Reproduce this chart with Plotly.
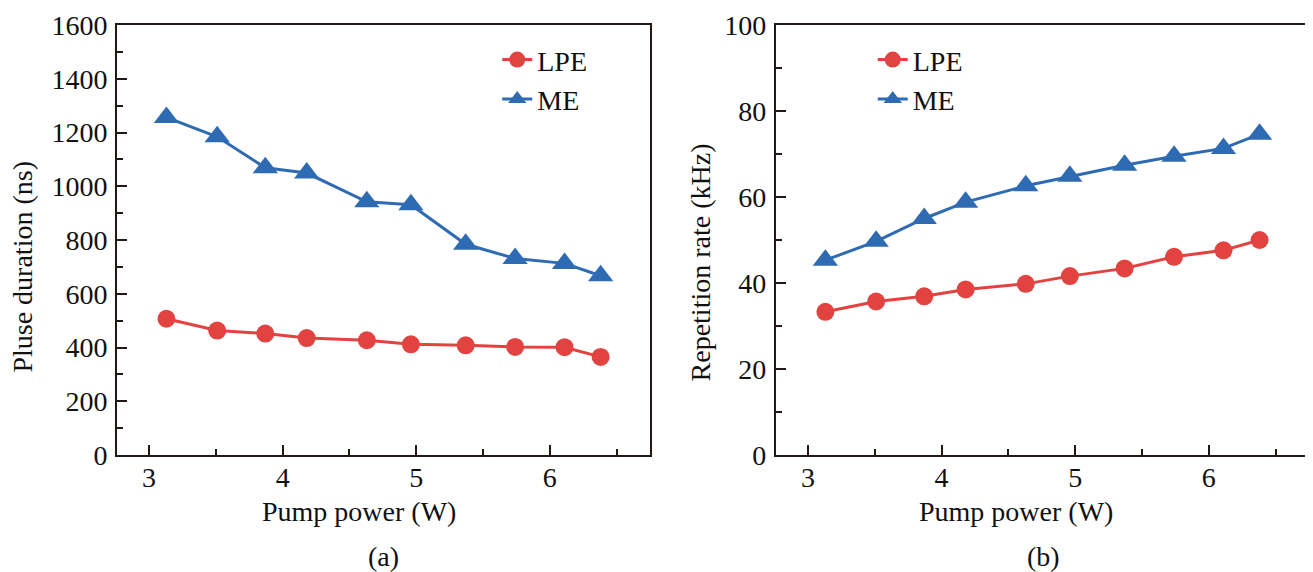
import plotly.graph_objects as go
from plotly.subplots import make_subplots

# ---- data ----
pump_power = [3.13, 3.51, 3.87, 4.18, 4.63, 4.96, 5.37, 5.74, 6.11, 6.38]
duration_lpe = [507, 463, 452, 435, 427, 412, 408, 402, 401, 365]
duration_me = [1256, 1184, 1069, 1049, 942, 931, 784, 731, 713, 667]
rate_lpe = [33.3, 35.7, 36.9, 38.5, 39.8, 41.6, 43.4, 46.1, 47.6, 50.0]
rate_me = [45.3, 49.7, 55.0, 58.8, 62.6, 64.8, 67.4, 69.5, 71.3, 74.6]
series_names = ["LPE", "ME"]
x_ticks = [3, 4, 5, 6]
y1_ticks = [0, 200, 400, 600, 800, 1000, 1200, 1400, 1600]
y2_ticks = [0, 20, 40, 60, 80, 100]

RED = "#E24341"
BLUE = "#2F6BB3"
AX = "#231815"
FONT = "Liberation Serif"

fig = make_subplots(rows=1, cols=2, horizontal_spacing=0.1056)
fig.update_layout(xaxis=dict(domain=[0, 0.4472]), xaxis2=dict(domain=[0.5528, 1.0]))

fig.add_trace(go.Scatter(x=pump_power, y=duration_lpe, name=series_names[0], mode="lines+markers",
                         line=dict(color=RED, width=3), marker=dict(symbol="circle", size=18, color=RED),
                         legend="legend"), row=1, col=1)
fig.add_trace(go.Scatter(x=pump_power, y=duration_me, name=series_names[1], mode="lines+markers",
                         line=dict(color=BLUE, width=3), marker=dict(symbol="triangle-up", size=22, color=BLUE),
                         legend="legend"), row=1, col=1)
fig.add_trace(go.Scatter(x=pump_power, y=rate_lpe, name=series_names[0], mode="lines+markers",
                         line=dict(color=RED, width=3), marker=dict(symbol="circle", size=18, color=RED),
                         legend="legend2"), row=1, col=2)
fig.add_trace(go.Scatter(x=pump_power, y=rate_me, name=series_names[1], mode="lines+markers",
                         line=dict(color=BLUE, width=3), marker=dict(symbol="triangle-up", size=22, color=BLUE),
                         legend="legend2"), row=1, col=2)

axis_common = dict(showline=True, linecolor=AX, linewidth=2, mirror=True, showgrid=False, zeroline=False,
                   ticks="inside", ticklen=10, tickwidth=2, tickcolor=AX,
                   tickfont=dict(family=FONT, size=28, color="#111111"))
minor_common = dict(ticks="inside", ticklen=6, tickwidth=2, tickcolor=AX, showgrid=False)

for xa in ["xaxis", "xaxis2"]:
    fig.update_layout({xa: dict(range=[2.76, 6.75], tickvals=x_ticks, ticktext=[str(v) for v in x_ticks],
                                minor=dict(dtick=0.5, tick0=0, **minor_common), ticklabelstandoff=-4,
                                **axis_common)})
fig.update_layout(yaxis=dict(range=[0, 1600], tickvals=y1_ticks, ticktext=[str(v) for v in y1_ticks],
                             minor=dict(dtick=100, tick0=0, **minor_common), ticklabelstandoff=2,
                             **axis_common))
fig.update_layout(yaxis2=dict(range=[0, 100], tickvals=y2_ticks, ticktext=[str(v) for v in y2_ticks],
                              minor=dict(dtick=10, tick0=0, **minor_common), ticklabelstandoff=2,
                              **axis_common))

legend_common = dict(font=dict(family=FONT, size=28, color="#111111"), bgcolor="rgba(0,0,0,0)",
                     borderwidth=0, xanchor="left", yanchor="top", tracegroupgap=0)
fig.update_layout(legend=dict(x=0.319, y=0.977, **legend_common),
                  legend2=dict(x=0.634, y=0.977, **legend_common), showlegend=True)

ann_font = dict(family=FONT, size=28, color="#111111")
annotations = [
    dict(text="Pluse duration (ns)", x=-0.0796, y=0.4385, textangle=-90),
    dict(text="Repetition rate (kHz)", x=0.4891, y=0.4478, textangle=-90),
    dict(text="Pump power (W)", x=0.2027, y=-0.1323, textangle=0),
    dict(text="Pump power (W)", x=0.7546, y=-0.1323, textangle=0),
    dict(text="(a)", x=0.2236, y=-0.2367, textangle=0),
    dict(text="(b)", x=0.7772, y=-0.2367, textangle=0),
]
for a in annotations:
    fig.add_annotation(xref="paper", yref="paper", showarrow=False, xanchor="center", yanchor="middle",
                       font=ann_font, **a)

# page body has an 8px margin: size the figure so the plot area lands where the reference has it
fig.update_layout(width=1305, height=564, margin=dict(l=109, r=2, t=16, b=117),
                  paper_bgcolor="white", plot_bgcolor="white")

fig.write_html("out.html")
